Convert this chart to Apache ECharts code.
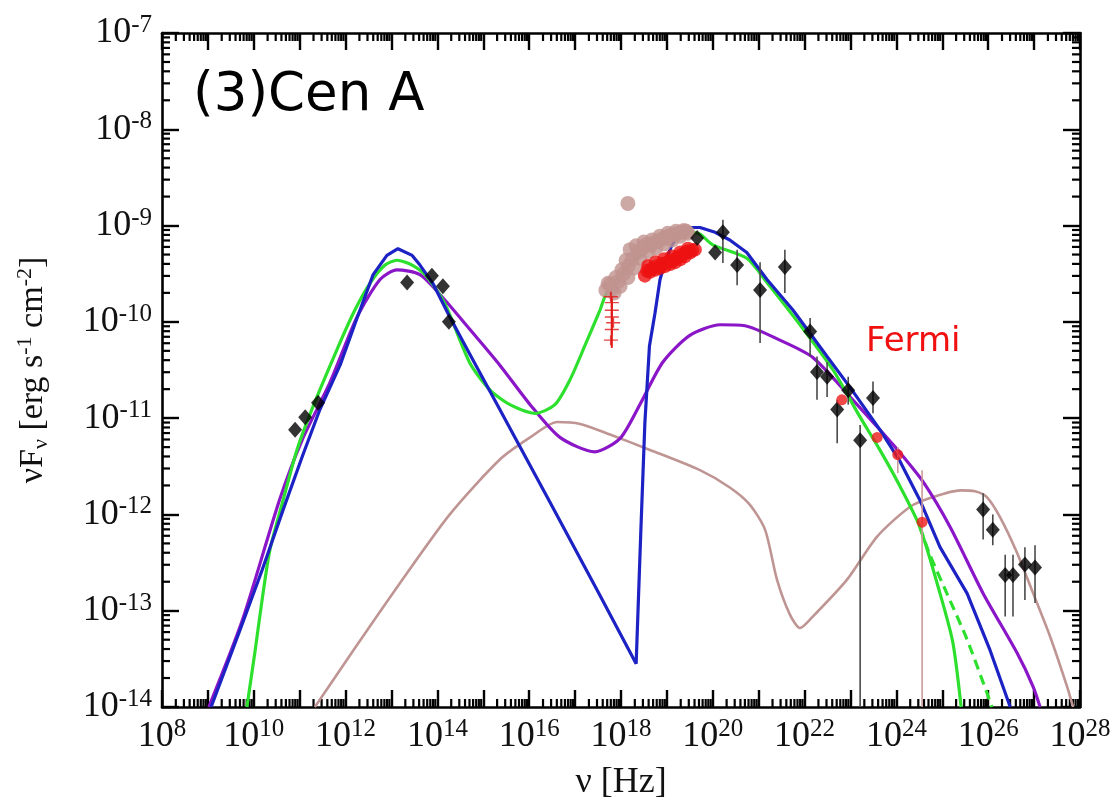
<!DOCTYPE html>
<html>
<head>
<meta charset="utf-8">
<script src="https://cdn.jsdelivr.net/npm/echarts@6/dist/echarts.min.js"></script>
<style>
  html, body { margin: 0; padding: 0; background: #fff; }
  #chart { width: 1118px; height: 806px; }
</style>
</head>
<body>
<div id="chart"></div>
<script>
// Spectral energy distribution of Cen A.
// Every value is a base-10 logarithm: x = log10(nu / Hz), y = log10(nuFnu / erg s^-1 cm^-2).

const xTickExponents = [8, 10, 12, 14, 16, 18, 20, 22, 24, 26, 28];
const yTickExponents = [-14, -13, -12, -11, -10, -9, -8, -7];

// Model curves
const blueModel = [
  [9.07, -14.00], [9.70, -13.20], [10.18, -12.58], [10.64, -11.95], [11.07, -11.38],
  [11.44, -10.91], [11.88, -10.45], [12.25, -9.96], [12.60, -9.51], [12.90, -9.31],
  [13.14, -9.24], [13.45, -9.31], [13.62, -9.41], [13.90, -9.60], [14.27, -9.95],
  [14.71, -10.34], [15.36, -10.91], [16.45, -11.87], [17.54, -12.84], [18.33, -13.55],
  [18.43, -12.20], [18.52, -11.05], [18.62, -10.25], [18.74, -9.91], [18.85, -9.56],
  [18.96, -9.38], [19.11, -9.20], [19.29, -9.08], [19.50, -9.02], [19.72, -9.02],
  [20.05, -9.07], [20.37, -9.15], [20.74, -9.28], [21.18, -9.56], [21.75, -9.88],
  [22.49, -10.36], [22.99, -10.68], [23.64, -11.12], [24.08, -11.45], [24.51, -11.85],
  [24.95, -12.34], [25.54, -12.82], [26.04, -13.41], [26.48, -14.00]
];
const greenModel = [
  [9.85, -14.00], [10.03, -13.41], [10.18, -12.89], [10.35, -12.37], [10.64, -11.85],
  [10.94, -11.33], [11.29, -10.88], [11.81, -10.29], [12.20, -9.88], [12.53, -9.60],
  [12.86, -9.41], [13.12, -9.36], [13.45, -9.41], [13.77, -9.53], [14.17, -9.82],
  [14.71, -10.43], [15.15, -10.71], [15.58, -10.86], [16.13, -10.95], [16.56, -10.86],
  [16.89, -10.60], [17.22, -10.24], [17.54, -9.88], [17.69, -9.70], [18.20, -9.41],
  [18.74, -9.20], [19.50, -9.07], [19.72, -9.09], [20.00, -9.20], [20.74, -9.34],
  [21.18, -9.59], [21.90, -10.03], [22.62, -10.50], [23.21, -10.99], [23.64, -11.33],
  [24.08, -11.71], [24.51, -12.13], [24.95, -12.82], [25.23, -13.33], [25.41, -14.00]
];
const greenDashedModel = [
  [24.51, -12.13], [24.73, -12.42], [25.10, -12.82], [25.54, -13.30], [25.97, -13.85], [26.08, -14.00]
];
const purpleModel = [
  [9.02, -14.00], [9.75, -13.10], [10.56, -11.85], [11.05, -11.23], [11.66, -10.63],
  [12.25, -9.95], [12.75, -9.56], [13.12, -9.46], [13.62, -9.51], [14.12, -9.75],
  [14.71, -10.08], [15.36, -10.45], [16.02, -10.86], [16.67, -11.20], [17.43, -11.35],
  [17.98, -11.21], [18.41, -10.86], [18.91, -10.42], [19.50, -10.14], [20.16, -10.03],
  [20.70, -10.04], [21.46, -10.19], [22.18, -10.37], [23.05, -10.81], [23.58, -11.09],
  [24.08, -11.36], [24.58, -11.66], [25.17, -12.13], [25.89, -12.82], [26.63, -13.44],
  [26.98, -13.79], [27.13, -14.00]
];
const brownModel = [
  [11.33, -14.00], [12.10, -13.46], [13.19, -12.71], [14.27, -12.00], [15.36, -11.43],
  [16.02, -11.20], [16.61, -11.04], [17.11, -11.06], [17.76, -11.17], [18.63, -11.33],
  [19.72, -11.54], [20.37, -11.72], [20.81, -11.90], [21.14, -12.16], [21.40, -12.68],
  [21.68, -13.04], [21.90, -13.18], [22.16, -13.07], [22.92, -12.68], [23.58, -12.23],
  [24.30, -11.92], [24.80, -11.82], [25.39, -11.75], [25.71, -11.76], [25.97, -11.82],
  [26.26, -12.03], [26.63, -12.40], [26.98, -12.82], [27.35, -13.27], [27.72, -13.79],
  [27.85, -14.00]
];

// Observations: [x, y]
const radioIrPoints = [
  [10.90, -11.12], [11.12, -10.99], [11.40, -10.84],
  [13.34, -9.59], [13.88, -9.52], [14.12, -9.63], [14.25, -10.00]
];
// Gamma-ray and TeV points: [x, y, yLow, yHigh]
const gammaPoints = [
  [19.66, -9.13, -9.13, -9.13], [20.05, -9.28, -9.28, -9.28],
  [20.22, -9.07, -8.94, -9.39], [20.53, -9.41, -9.25, -9.62],
  [21.03, -9.67, -9.38, -10.22], [21.57, -9.43, -9.25, -9.70],
  [22.12, -10.10, -9.96, -10.36], [22.27, -10.52, -10.36, -10.81],
  [22.49, -10.57, -10.42, -10.78], [22.71, -10.91, -10.81, -11.26],
  [22.95, -10.71, -10.57, -10.86], [23.49, -10.79, -10.62, -10.95],
  [23.21, -11.23, -11.07, -14.00],
  [25.89, -11.95, -11.78, -12.26], [26.10, -12.16, -12.00, -12.32],
  [26.37, -12.63, -12.42, -13.06], [26.54, -12.63, -12.42, -13.06],
  [26.80, -12.52, -12.34, -12.89], [27.02, -12.55, -12.32, -12.92]
];
// X-ray spectra
const xrayBrownPoints = [
  [17.67, -9.67], [17.76, -9.61], [17.85, -9.70], [17.89, -9.54], [17.98, -9.63],
  [18.02, -9.46], [18.11, -9.36], [18.15, -9.54], [18.20, -9.25], [18.28, -9.44],
  [18.33, -9.21], [18.41, -9.34], [18.50, -9.17], [18.59, -9.27], [18.68, -9.15],
  [18.76, -9.23], [18.85, -9.11], [18.94, -9.19], [19.02, -9.08], [19.11, -9.15],
  [19.20, -9.06], [19.29, -9.11], [19.37, -9.05], [19.46, -9.08],
  [17.72, -9.60], [17.80, -9.66], [17.94, -9.58], [18.06, -9.50], [18.16, -9.42],
  [18.24, -9.35], [18.37, -9.28], [18.46, -9.24], [18.55, -9.20], [18.64, -9.20],
  [18.72, -9.18], [18.81, -9.16], [18.90, -9.14], [18.98, -9.12], [19.07, -9.10],
  [19.16, -9.09], [19.25, -9.08], [19.33, -9.07], [19.42, -9.06],
  [18.15, -8.77]
];
const xrayRedPoints = [
  [18.52, -9.52], [18.63, -9.48], [18.74, -9.46], [18.85, -9.44], [18.96, -9.42],
  [19.07, -9.40], [19.18, -9.38], [19.29, -9.35], [19.39, -9.32], [19.50, -9.28],
  [19.61, -9.25], [18.59, -9.42], [18.76, -9.38], [18.94, -9.35], [19.11, -9.32],
  [19.29, -9.28], [19.46, -9.24],
  [18.57, -9.47], [18.68, -9.45], [18.80, -9.42], [18.90, -9.40], [19.01, -9.38],
  [19.12, -9.36], [19.23, -9.33], [19.34, -9.30], [19.44, -9.27], [19.55, -9.26]
];
const xrayCrossPoints = [
  [17.78, -9.74], [17.80, -9.80], [17.80, -9.88], [17.80, -9.95],
  [17.83, -10.01], [17.80, -10.08], [17.78, -10.19]
];
const xrayCrossRange = [[17.80, -9.65, -10.27]];
// Fermi-LAT: [x, y] and error ranges [x, yLow, yHigh]
const fermiPoints = [[22.81, -10.81], [23.58, -11.20], [24.03, -11.38], [24.56, -12.08]];
const fermiRanges = [[24.03, -11.30, -11.57], [24.56, -11.54, -14.00]];

const X_MIN = 8, X_MAX = 28, Y_MIN = -14, Y_MAX = -7;

// Logarithmic minor tick positions (2..9 within each decade)
const xMinor = [], yMinor = [];
for (let n = X_MIN; n < X_MAX; n++) for (let k = 2; k <= 9; k++) xMinor.push([n + Math.log10(k), Y_MIN]);
for (let n = Y_MIN; n < Y_MAX; n++) for (let k = 2; k <= 9; k++) yMinor.push([X_MIN, n + Math.log10(k)]);

const SERIF = '"Liberation Serif", "Times New Roman", "DejaVu Serif", serif';
const MAJOR_LEN = 17, MINOR_LEN = 8;

const chart = echarts.init(document.getElementById('chart'), null, { renderer: 'canvas' });

function tickLabelRich() {
  return {
    b: { fontFamily: SERIF, fontSize: 36, color: '#111', lineHeight: 40 },
    s: { fontFamily: SERIF, fontSize: 25, color: '#111', lineHeight: 24, verticalAlign: 'top' }
  };
}

function minorXTicks(params, api) {
  const x = api.value(0);
  const b = api.coord([x, Y_MIN]);
  const t = api.coord([x, Y_MAX]);
  const st = { stroke: '#000', lineWidth: 2.2 };
  return {
    type: 'group',
    children: [
      { type: 'line', shape: { x1: b[0], y1: b[1], x2: b[0], y2: b[1] - MINOR_LEN }, style: st },
      { type: 'line', shape: { x1: t[0], y1: t[1], x2: t[0], y2: t[1] + MINOR_LEN }, style: st }
    ]
  };
}
function minorYTicks(params, api) {
  const y = api.value(1);
  const l = api.coord([X_MIN, y]);
  const r = api.coord([X_MAX, y]);
  const st = { stroke: '#000', lineWidth: 2.2 };
  return {
    type: 'group',
    children: [
      { type: 'line', shape: { x1: l[0], y1: l[1], x2: l[0] + MINOR_LEN, y2: l[1] }, style: st },
      { type: 'line', shape: { x1: r[0], y1: r[1], x2: r[0] - MINOR_LEN, y2: r[1] }, style: st }
    ]
  };
}
function rangeRenderer(color, width) {
  return function (params, api) {
    const x = api.value(0);
    const a = api.coord([x, api.value(1)]);
    const b = api.coord([x, api.value(2)]);
    return { type: 'line', shape: { x1: a[0], y1: a[1], x2: b[0], y2: b[1] }, style: { stroke: color, lineWidth: width } };
  };
}

function curve(name, data, color, width, extra) {
  return Object.assign({
    name, type: 'line', data, symbol: 'none', smooth: 0.25,
    lineStyle: { color, width }, z: 3, silent: true
  }, extra || {});
}

const axisCommon = {
  type: 'value', splitLine: { show: false },
  axisLine: { show: true, onZero: false, lineStyle: { color: '#000', width: 2.6 } },
  axisTick: { show: true, inside: true, length: MAJOR_LEN, lineStyle: { color: '#000', width: 2.4 } }
};

const option = {
  animation: false,
  backgroundColor: '#fff',
  grid: { left: 162, right: 38, top: 33, bottom: 99, containLabel: false, outerBoundsMode: 'none' },
  xAxis: [
    Object.assign({}, axisCommon, {
      min: X_MIN, max: X_MAX, interval: 1, position: 'bottom',
      name: 'ν [Hz]', nameLocation: 'middle', nameGap: 58,
      nameTextStyle: { fontFamily: SERIF, fontSize: 36, color: '#111' },
      axisLabel: {
        margin: 10,
        formatter: v => xTickExponents.includes(Math.round(v)) ? '{b|10}{s|' + Math.round(v) + '}' : '',
        rich: tickLabelRich()
      }
    }),
    Object.assign({}, axisCommon, {
      min: X_MIN, max: X_MAX, interval: 1, position: 'top', axisLabel: { show: false }
    })
  ],
  yAxis: [
    Object.assign({}, axisCommon, {
      min: Y_MIN, max: Y_MAX, interval: 1, position: 'left',
      name: '{t|νF}{sub|ν}{t| [erg s}{sup|-1}{t| cm}{sup|-2}{t|]}',
      nameLocation: 'middle', nameRotate: 90, nameGap: 110,
      nameTextStyle: {
        rich: {
          t: { fontFamily: SERIF, fontSize: 34, color: '#111', lineHeight: 38 },
          sub: { fontFamily: SERIF, fontSize: 22, color: '#111', lineHeight: 20, verticalAlign: 'bottom' },
          sup: { fontFamily: SERIF, fontSize: 22, color: '#111', lineHeight: 22, verticalAlign: 'top' }
        }
      },
      axisLabel: {
        margin: 10,
        formatter: v => yTickExponents.includes(Math.round(v)) ? '{b|10}{s|' + Math.round(v) + '}' : '',
        rich: tickLabelRich()
      }
    }),
    Object.assign({}, axisCommon, {
      min: Y_MIN, max: Y_MAX, interval: 1, position: 'right', axisLabel: { show: false }
    })
  ],
  graphic: [
    { type: 'text', left: 193, top: 70, z: 10,
      style: { text: '(3)Cen A', fontFamily: '"Comic Sans MS", "DejaVu Sans", sans-serif', fontSize: 53, fill: '#000' } },
    { type: 'text', left: 866, top: 325, z: 10,
      style: { text: 'Fermi', fontFamily: '"Comic Sans MS", "DejaVu Sans", sans-serif', fontSize: 34, fill: '#f01010' } }
  ],
  series: [
    { type: 'custom', renderItem: minorXTicks, data: xMinor, silent: true, z: 1, clip: false },
    { type: 'custom', renderItem: minorYTicks, data: yMinor, silent: true, z: 1, clip: false },

    curve('brown', brownModel, '#bf9594', 2.6),
    curve('purple', purpleModel, '#8a16c8', 3.2),
    curve('green', greenModel, '#2ee02e', 3.2),
    curve('greenDashed', greenDashedModel, '#2ee02e', 3.2, { lineStyle: { color: '#2ee02e', width: 3.2, type: [10, 6] } }),
    curve('blue', blueModel, '#1c22c4', 3.2, { smooth: false }),

    { type: 'custom', renderItem: rangeRenderer('#4a4a4a', 1.6), data: gammaPoints.map(p => [p[0], p[2], p[3]]),
      encode: { x: 0, y: [1, 2] }, silent: true, z: 4 },
    { type: 'custom', renderItem: rangeRenderer('#cc9a9a', 1.6), data: fermiRanges,
      encode: { x: 0, y: [1, 2] }, silent: true, z: 4 },
    { type: 'custom', renderItem: rangeRenderer('#e01818', 2), data: xrayCrossRange,
      encode: { x: 0, y: [1, 2] }, silent: true, z: 4 },

    { type: 'scatter', data: xrayBrownPoints, symbol: 'circle', symbolSize: 15,
      itemStyle: { color: '#c09390' }, silent: true, z: 5 },
    { type: 'scatter', data: xrayRedPoints, symbol: 'circle', symbolSize: 14,
      itemStyle: { color: '#ee1111' }, silent: true, z: 6 },
    { type: 'scatter', data: xrayCrossPoints, symbol: 'path://M0,4.3H10V5.7H0Z M4.3,0H5.7V10H4.3Z', symbolSize: [14, 10],
      itemStyle: { color: '#e01818' }, silent: true, z: 6 },
    { type: 'scatter', data: radioIrPoints, symbol: 'diamond', symbolSize: [14, 16],
      itemStyle: { color: '#000' }, silent: true, z: 7 },
    { type: 'scatter', data: gammaPoints.map(p => [p[0], p[1]]), symbol: 'diamond', symbolSize: [14, 16],
      itemStyle: { color: '#000' }, silent: true, z: 7 },
    { type: 'scatter', data: fermiPoints, symbol: 'circle', symbolSize: 11,
      itemStyle: { color: '#ee1a1a' }, silent: true, z: 8 }
  ]
};

chart.setOption(option);
</script>
</body>
</html>
